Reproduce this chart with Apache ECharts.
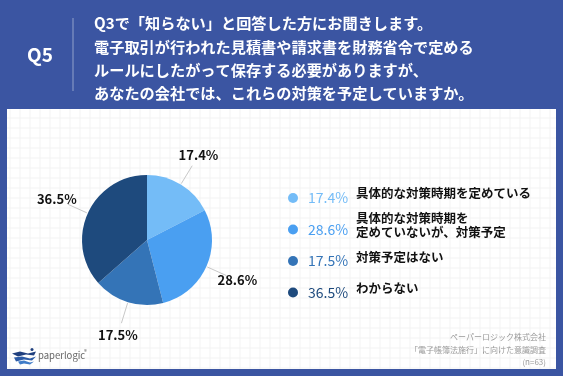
<!DOCTYPE html>
<html>
<head>
<meta charset="utf-8">
<script src="https://cdn.jsdelivr.net/npm/echarts@6/dist/echarts.min.js"></script>
<style>
  html, body { margin: 0; padding: 0; background: #3b55a2; }
  #main { width: 563px; height: 376px; }
</style>
</head>
<body>
<div id="main"></div>
<script>
// データ
var categories = ['具体的な対策時期を定めている', '具体的な対策時期を\n定めていないが、対策予定', '対策予定はない', 'わからない'];
var values = [17.4, 28.6, 17.5, 36.5];
var colors = ['#74bcf7', '#4a9ff1', '#3474b7', '#1e4a7d'];
var questionLines = [
    'Q3で「知らない」と回答した方にお聞きします。',
    '電子取引が行われた見積書や請求書を財務省令で定める',
    'ルールにしたがって保存する必要がありますが、',
    'あなたの会社では、これらの対策を予定していますか。'
];
var sourceLines = ['ペーパーロジック株式会社', '「電子帳簿法施行」に向けた意識調査', '(n=63)'];

var FONT = '"Noto Sans CJK JP", "Noto Sans", sans-serif';
var cx = 147, cy = 240, R = 65;
var total = values.reduce(function (a, b) { return a + b; }, 0);

// ラベル位置は扇形の中心角から計算
function midAngle(idx) {
    var cum = 0;
    for (var i = 0; i < idx; i++) cum += values[i];
    return (cum + values[idx] / 2) / total * Math.PI * 2;
}

var pieData = categories.map(function (c, i) {
    return { name: c, value: values[i], itemStyle: { color: colors[i] } };
});

var legendRich = {};
colors.forEach(function (c, i) {
    legendRich['p' + i] = { color: c, fontSize: 14, fontFamily: FONT, width: 54, padding: [0, 0, 0, 5] };
});

// 背景の薄いグリッド
var gridLines = [];
for (var gx = 10; gx < 556; gx += 10) {
    gridLines.push({ type: 'line', shape: { x1: gx, y1: 109, x2: gx, y2: 369 }, style: { stroke: '#f3f3f3', lineWidth: 1 }, silent: true });
}
for (var gy = 118; gy < 369; gy += 10) {
    gridLines.push({ type: 'line', shape: { x1: 7, y1: gy, x2: 556, y2: gy }, style: { stroke: '#f3f3f3', lineWidth: 1 }, silent: true });
}

var nameY = [193, 225, 257, 288];
var nameTexts = categories.map(function (c, i) {
    return {
        type: 'text', left: 356, top: nameY[i] - (c.indexOf('\n') >= 0 ? 14 : 7),
        style: { text: c, fill: '#111', font: 'bold 12.5px ' + FONT, lineHeight: 14 }
    };
});

var sourceTexts = sourceLines.map(function (s, i) {
    return {
        type: 'text', x: 546, y: 337 + i * 12.5,
        style: { text: s, fill: '#999', font: '8px ' + FONT, align: 'right', verticalAlign: 'middle' }
    };
});

var chart = echarts.init(document.getElementById('main'));
chart.setOption({
    backgroundColor: '#3b55a2',
    animation: false,
    graphic: [
        { type: 'rect', z: -10, shape: { x: 7, y: 109, width: 549, height: 260 }, style: { fill: '#ffffff' } },
        { type: 'group', z: -9, children: gridLines },
        { type: 'text', left: 27, top: 45, style: { text: 'Q5', fill: '#fff', font: 'bold 19px ' + FONT } },
        { type: 'line', shape: { x1: 73, y1: 18, x2: 73, y2: 91 }, style: { stroke: 'rgba(255,255,255,0.45)', lineWidth: 1 } },
        { type: 'text', left: 94, top: 12, style: { text: questionLines.join('\n'), fill: '#fff', font: 'bold 15.2px ' + FONT, lineHeight: 23.3 } },
        { type: 'group', children: nameTexts },
        { type: 'group', children: sourceTexts },
        // ロゴ
        { type: 'group', left: 12, top: 348, children: [
            { type: 'polygon', shape: { points: [[0, 4], [8, 2], [16, 4], [24, 2], [22, 6], [14, 5], [6, 7]] }, style: { fill: '#1f3f7e' } },
            { type: 'polygon', shape: { points: [[2, 8], [10, 7], [18, 9], [24, 7], [20, 11], [12, 10], [4, 12]] }, style: { fill: '#2b5aa6' } },
            { type: 'polygon', shape: { points: [[6, 12], [12, 11], [18, 13], [22, 12], [18, 15], [12, 14], [8, 15]] }, style: { fill: '#3f7cc8' } },
            { type: 'circle', shape: { cx: 20, cy: 0, r: 1.5 }, style: { fill: '#1f3f7e' } }
        ] },
        { type: 'text', left: 38, top: 351, style: { text: 'paperlogic', fill: '#666', font: '9.5px ' + FONT } },
        { type: 'text', left: 84, top: 349, style: { text: '®', fill: '#666', font: '6px ' + FONT } }
    ],
    legend: {
        orient: 'vertical',
        left: 283,
        top: 185,
        itemGap: 15.5,
        icon: 'circle',
        itemWidth: 10,
        itemHeight: 10,
        selectedMode: false,
        data: categories,
        formatter: function (name) {
            var i = categories.indexOf(name);
            return '{p' + i + '|' + values[i].toFixed(1) + '%}';
        },
        textStyle: { rich: legendRich, lineHeight: 16 }
    },
    series: [
        {
            name: '対策予定',
            type: 'pie',
            center: [cx, cy],
            radius: [0, R],
            startAngle: 90,
            clockwise: true,
            data: pieData,
            label: {
                show: true,
                formatter: function (p) { return p.value.toFixed(1) + '%'; },
                color: '#111',
                fontSize: 13,
                fontWeight: 'bold',
                fontFamily: FONT
            },
            labelLine: { show: true, length: 20, length2: 0, lineStyle: { color: '#c8c8c8', width: 1 } },
            labelLayout: function (params) {
                var a = midAngle(params.dataIndex);
                var dx = Math.sin(a), dy = -Math.cos(a);
                return {
                    x: cx + dx * 99,
                    y: cy + dy * 99,
                    align: 'center',
                    verticalAlign: 'middle',
                    labelLinePoints: [
                        [cx + dx * (R + 1), cy + dy * (R + 1)],
                        [cx + dx * 87, cy + dy * 87],
                        [cx + dx * 87, cy + dy * 87]
                    ]
                };
            }
        }
    ]
});
</script>
</body>
</html>
